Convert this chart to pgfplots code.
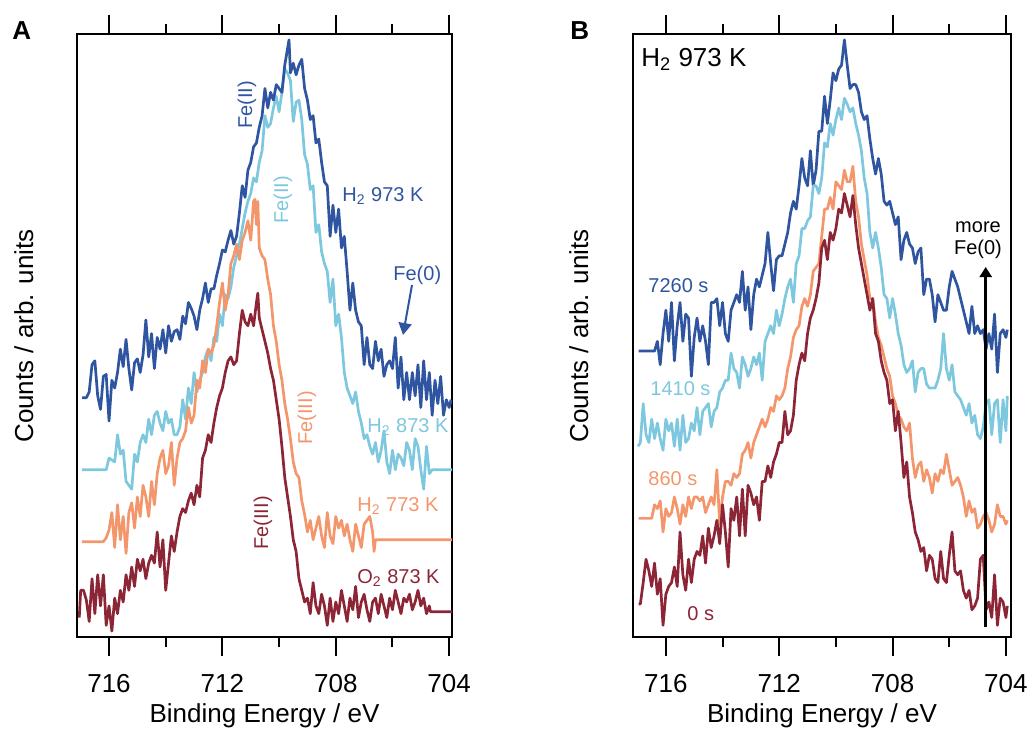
\documentclass[border=0pt]{standalone}
\usepackage{fontspec}
\setmainfont{Liberation Sans}
\usepackage{pgfplots}
\pgfplotsset{compat=1.18}
\usetikzlibrary{arrows.meta}
\definecolor{cdb}{RGB}{48,85,160}
\definecolor{clb}{RGB}{125,200,222}
\definecolor{cor}{RGB}{244,150,108}
\definecolor{cdr}{RGB}{140,38,55}
\pgfplotsset{xpsax/.style={
  scale only axis, height=301.5pt, x dir=reverse, y dir=reverse,
  ymin=10, ymax=1560, ytick=\empty,
  xtick={704,708,712,716}, minor xtick={706,710,714},
  tick align=outside, xtick pos=both, xticklabel pos=bottom,
  major tick length=9.5pt, minor tick length=5pt,
  axis line style={line width=1pt}, tick style={line width=1pt, black},
  xticklabel style={font=\fontsize{13}{13}\selectfont, inner sep=0pt, yshift=-9pt},
  /pgf/number format/assume math mode=true,
  /pgf/number format/1000 sep={},
  anchor=north west, clip=true,
  every axis plot/.append style={line width=1.35pt, line join=round, mark=none},
}}
\begin{document}
\begin{tikzpicture}
\path[use as bounding box] (0,0) rectangle (513.5pt,-364.5pt);
% ---------------- Panel A ----------------
\begin{axis}[xpsax, width=187.5pt, xmin=703.9, xmax=717.13, at={(38.5pt,-17pt)}]
\addplot[clb] coordinates {(716.95,1130)(716.1,1130)(716.0,1100)(715.9,1105)(715.8,1110)(715.7,1040)(715.6,1090)(715.5,1080)(715.4,1160)(715.3,1170)(715.2,1180)(715.1,1090)(715.0,1110)(714.9,1060)(714.8,1040)(714.7,1060)(714.6,1000)(714.5,1040)(714.4,990)(714.3,980)(714.2,1010)(714.1,1030)(714.0,980)(713.9,1010)(713.8,1000)(713.7,1040)(713.6,1040)(713.5,1020)(713.4,950)(713.3,1000)(713.2,920)(713.1,960)(713.0,880)(712.9,930)(712.8,900)(712.7,880)(712.6,840)(712.5,820)(712.4,850)(712.3,790)(712.2,800)(712.1,730)(712.0,760)(711.9,680)(711.8,690)(711.7,660)(711.6,610)(711.5,580)(711.4,550)(711.3,510)(711.2,470)(711.1,440)(711.0,420)(710.9,380)(710.8,390)(710.7,340)(710.6,310)(710.5,220)(710.4,250)(710.3,240)(710.2,200)(710.1,170)(710.0,210)(709.9,160)(709.8,100)(709.7,110)(709.6,130)(709.5,235)(709.4,185)(709.3,180)(709.2,230)(709.1,320)(709.0,345)(708.9,410)(708.8,400)(708.7,520)(708.6,500)(708.5,570)(708.4,600)(708.3,620)(708.2,700)(708.1,640)(708.0,760)(707.9,730)(707.8,790)(707.7,880)(707.6,920)(707.5,940)(707.4,960)(707.3,930)(707.2,980)(707.1,1010)(707.0,1050)(706.9,1040)(706.8,1070)(706.7,1090)(706.6,1060)(706.5,1110)(706.4,1080)(706.3,1030)(706.2,1110)(706.1,1140)(706.0,1080)(705.9,1130)(705.8,1090)(705.7,1100)(705.6,1120)(705.5,1060)(705.4,1080)(705.3,1130)(705.2,1050)(705.1,1070)(705.0,1130)(704.9,1180)(704.8,1070)(704.7,1140)(704.6,1130)(704.5,1130)(703.85,1130)};
\addplot[cdb] coordinates {(716.95,945)(716.8,945)(716.7,930)(716.6,860)(716.5,850)(716.4,940)(716.3,975)(716.2,890)(716.1,885)(716.0,1005)(715.9,900)(715.8,920)(715.7,880)(715.6,820)(715.5,865)(715.4,795)(715.3,870)(715.2,925)(715.1,855)(715.0,845)(714.9,880)(714.8,835)(714.7,745)(714.6,840)(714.5,780)(714.4,870)(714.3,790)(714.2,820)(714.1,770)(714.0,830)(713.9,760)(713.8,800)(713.7,775)(713.6,770)(713.5,795)(713.4,735)(713.3,755)(713.2,700)(713.1,715)(713.0,735)(712.9,770)(712.8,720)(712.7,690)(712.6,650)(712.5,700)(712.4,665)(712.3,665)(712.2,630)(712.1,600)(712.0,565)(711.9,570)(711.8,540)(711.7,515)(711.6,550)(711.5,530)(711.4,470)(711.3,400)(711.2,430)(711.1,360)(711.0,340)(710.9,300)(710.8,290)(710.7,250)(710.6,220)(710.5,150)(710.4,200)(710.3,160)(710.2,180)(710.1,140)(710.0,150)(709.9,160)(709.8,90)(709.65,25)(709.6,110)(709.5,85)(709.4,115)(709.3,90)(709.2,75)(709.1,150)(709.0,180)(708.9,230)(708.8,220)(708.7,290)(708.6,280)(708.5,340)(708.4,390)(708.3,400)(708.2,530)(708.1,450)(708.0,520)(707.9,460)(707.8,560)(707.7,530)(707.6,620)(707.5,720)(707.4,650)(707.3,720)(707.2,750)(707.1,760)(707.0,860)(706.9,790)(706.8,860)(706.7,870)(706.6,800)(706.5,850)(706.4,820)(706.3,890)(706.2,860)(706.1,850)(706.0,870)(705.9,790)(705.8,920)(705.7,840)(705.6,950)(705.5,880)(705.4,950)(705.3,880)(705.2,940)(705.1,860)(705.0,970)(704.9,850)(704.8,950)(704.7,880)(704.6,990)(704.5,900)(704.4,960)(704.3,890)(704.2,990)(704.1,950)(704.0,970)(703.93,950)};
\addplot[cor] coordinates {(716.95,1315)(716.2,1315)(716.1,1305)(716.0,1285)(715.9,1240)(715.8,1330)(715.7,1220)(715.6,1310)(715.5,1250)(715.4,1345)(715.3,1240)(715.2,1215)(715.1,1280)(715.0,1200)(714.9,1250)(714.8,1170)(714.7,1200)(714.6,1250)(714.5,1160)(714.4,1220)(714.3,1140)(714.2,1100)(714.1,1080)(714.0,1140)(713.9,1120)(713.8,1060)(713.7,1170)(713.6,1100)(713.5,1060)(713.4,1050)(713.3,1030)(713.2,970)(713.1,1010)(713.0,990)(712.9,900)(712.8,920)(712.7,850)(712.6,880)(712.5,820)(712.4,830)(712.3,810)(712.2,760)(712.1,700)(712.0,650)(711.9,720)(711.8,680)(711.7,600)(711.6,580)(711.5,550)(711.4,590)(711.3,540)(711.2,520)(711.1,490)(711.0,540)(710.9,440)(710.85,435)(710.8,500)(710.75,440)(710.7,560)(710.6,580)(710.5,590)(710.4,640)(710.3,680)(710.2,760)(710.1,800)(710.0,860)(709.9,900)(709.8,960)(709.7,1000)(709.6,1050)(709.5,1110)(709.4,1140)(709.3,1150)(709.2,1210)(709.1,1245)(709.0,1290)(708.9,1260)(708.8,1310)(708.7,1280)(708.6,1250)(708.5,1300)(708.4,1330)(708.3,1240)(708.2,1300)(708.1,1320)(708.0,1250)(707.9,1280)(707.8,1260)(707.7,1300)(707.6,1270)(707.5,1310)(707.4,1340)(707.3,1270)(707.2,1300)(707.1,1330)(707.0,1270)(706.9,1260)(706.8,1250)(706.7,1290)(706.65,1340)(706.6,1310)(703.85,1310)};
\addplot[cdr] coordinates {(717.05,1510)(717.0,1440)(716.9,1440)(716.8,1465)(716.7,1520)(716.6,1410)(716.5,1500)(716.4,1400)(716.3,1480)(716.2,1400)(716.1,1530)(716.0,1480)(715.9,1545)(715.8,1460)(715.7,1500)(715.6,1440)(715.5,1470)(715.4,1400)(715.3,1440)(715.2,1380)(715.1,1430)(715.0,1360)(714.9,1390)(714.8,1360)(714.7,1410)(714.6,1370)(714.5,1350)(714.4,1370)(714.3,1290)(714.2,1380)(714.1,1310)(714.0,1440)(713.9,1370)(713.8,1300)(713.7,1340)(713.6,1290)(713.5,1250)(713.4,1230)(713.3,1240)(713.2,1210)(713.1,1190)(713.0,1220)(712.9,1170)(712.8,1200)(712.7,1100)(712.6,1080)(712.5,1040)(712.4,1060)(712.3,1010)(712.2,970)(712.1,940)(712.0,920)(711.9,880)(711.8,850)(711.7,840)(711.6,860)(711.5,850)(711.4,780)(711.3,720)(711.2,750)(711.1,760)(711.0,730)(710.9,760)(710.8,700)(710.75,676)(710.7,740)(710.6,770)(710.5,800)(710.4,830)(710.3,870)(710.2,900)(710.1,950)(710.0,1000)(709.9,1070)(709.8,1150)(709.7,1200)(709.6,1250)(709.5,1310)(709.4,1340)(709.3,1410)(709.2,1440)(709.1,1470)(709.0,1460)(708.9,1500)(708.8,1420)(708.7,1480)(708.6,1500)(708.5,1450)(708.4,1480)(708.3,1530)(708.2,1460)(708.1,1520)(708.0,1470)(707.9,1500)(707.8,1440)(707.7,1480)(707.6,1520)(707.5,1460)(707.4,1490)(707.3,1430)(707.2,1510)(707.1,1470)(707.0,1450)(706.9,1490)(706.8,1520)(706.7,1470)(706.6,1460)(706.5,1500)(706.4,1450)(706.3,1480)(706.2,1510)(706.1,1460)(706.0,1490)(705.9,1440)(705.8,1470)(705.7,1500)(705.6,1460)(705.5,1470)(705.4,1450)(705.3,1490)(705.2,1470)(705.1,1440)(705.0,1480)(704.9,1460)(704.8,1500)(704.7,1480)(704.66,1495)(703.85,1495)};
\end{axis}
% ---------------- Panel B ----------------
\begin{axis}[xpsax, width=189pt, xmin=703.82, xmax=717.16, at={(316.5pt,-17pt)}]
\addplot[cdb] coordinates {(716.96,825)(716.4,825)(716.3,800)(716.2,860)(716.1,780)(716.0,720)(715.9,800)(715.8,700)(715.7,850)(715.6,760)(715.5,700)(715.4,800)(715.3,730)(715.2,740)(715.1,890)(715.0,790)(714.9,740)(714.8,800)(714.7,760)(714.6,800)(714.5,860)(714.4,700)(714.3,700)(714.2,690)(714.1,760)(714.0,700)(713.9,780)(713.8,800)(713.7,720)(713.6,700)(713.5,680)(713.4,700)(713.3,620)(713.2,720)(713.1,660)(713.0,770)(712.9,680)(712.8,640)(712.7,660)(712.6,630)(712.5,600)(712.4,520)(712.3,600)(712.2,670)(712.1,590)(712.0,580)(711.9,580)(711.8,550)(711.7,520)(711.6,470)(711.5,440)(711.4,460)(711.3,400)(711.2,330)(711.1,380)(711.0,400)(710.9,310)(710.8,400)(710.7,360)(710.6,260)(710.5,260)(710.4,170)(710.3,240)(710.2,180)(710.1,110)(710.0,130)(709.9,100)(709.8,90)(709.7,25)(709.6,90)(709.5,150)(709.4,140)(709.3,140)(709.2,160)(709.1,210)(709.0,230)(708.9,220)(708.8,280)(708.7,330)(708.6,370)(708.5,330)(708.4,370)(708.3,440)(708.2,450)(708.1,440)(708.0,470)(707.9,500)(707.8,480)(707.7,590)(707.6,540)(707.5,520)(707.4,550)(707.3,560)(707.2,600)(707.1,570)(707.0,560)(706.9,680)(706.8,640)(706.7,640)(706.6,680)(706.5,750)(706.4,680)(706.3,700)(706.2,720)(706.1,720)(706.0,660)(705.9,620)(705.8,640)(705.7,660)(705.6,690)(705.5,720)(705.4,750)(705.3,780)(705.2,710)(705.1,780)(705.0,760)(704.9,780)(704.8,770)(704.7,820)(704.6,780)(704.5,820)(704.4,730)(704.3,880)(704.2,780)(704.1,770)(704.0,790)(703.95,770)};
\addplot[clb] coordinates {(716.98,1070)(716.9,1060)(716.8,960)(716.7,1040)(716.6,1060)(716.5,1000)(716.4,1050)(716.3,1010)(716.2,1050)(716.1,1080)(716.0,1000)(715.9,1030)(715.8,1010)(715.7,1070)(715.6,1000)(715.5,1080)(715.4,990)(715.3,1060)(715.2,1050)(715.1,1010)(715.0,1030)(714.9,970)(714.8,1040)(714.7,980)(714.6,970)(714.5,960)(714.4,1020)(714.3,980)(714.2,970)(714.1,930)(714.0,920)(713.9,900)(713.8,900)(713.7,830)(713.6,870)(713.5,880)(713.4,920)(713.3,840)(713.2,860)(713.1,890)(713.0,870)(712.9,840)(712.8,860)(712.7,830)(712.6,900)(712.5,800)(712.4,780)(712.3,760)(712.2,780)(712.1,720)(712.0,760)(711.9,730)(711.8,690)(711.7,660)(711.6,640)(711.5,700)(711.4,600)(711.3,580)(711.2,510)(711.1,510)(711.0,490)(710.9,480)(710.8,400)(710.7,400)(710.6,420)(710.5,380)(710.4,290)(710.3,300)(710.2,240)(710.1,270)(710.0,230)(709.9,200)(709.8,230)(709.7,175)(709.6,190)(709.5,210)(709.4,200)(709.3,240)(709.2,270)(709.1,310)(709.0,380)(708.9,420)(708.8,520)(708.7,560)(708.6,520)(708.5,560)(708.4,610)(708.3,680)(708.2,690)(708.1,740)(708.0,690)(707.9,730)(707.8,780)(707.7,810)(707.6,860)(707.5,880)(707.4,870)(707.3,850)(707.2,930)(707.1,880)(707.0,870)(706.9,870)(706.8,910)(706.7,920)(706.6,920)(706.5,920)(706.4,900)(706.3,870)(706.2,780)(706.1,870)(706.0,900)(705.9,860)(705.8,930)(705.7,940)(705.6,950)(705.5,970)(705.4,990)(705.3,960)(705.2,1010)(705.1,990)(705.0,1040)(704.9,1050)(704.8,1020)(704.7,960)(704.6,950)(704.5,1040)(704.4,960)(704.3,950)(704.2,1060)(704.1,950)(704.0,1030)(703.95,940)};
\addplot[cor] coordinates {(716.96,1255)(716.5,1255)(716.4,1220)(716.3,1230)(716.2,1210)(716.1,1290)(716.0,1230)(715.9,1250)(715.8,1240)(715.7,1200)(715.6,1230)(715.5,1270)(715.4,1220)(715.3,1250)(715.2,1200)(715.1,1230)(715.0,1200)(714.9,1200)(714.8,1210)(714.7,1200)(714.6,1240)(714.5,1220)(714.4,1200)(714.3,1220)(714.2,1130)(714.1,1270)(714.0,1200)(713.9,1160)(713.8,1160)(713.7,1170)(713.6,1140)(713.5,1150)(713.4,1140)(713.3,1090)(713.2,1080)(713.1,1060)(713.0,1100)(712.9,1060)(712.8,1040)(712.7,1020)(712.6,1000)(712.5,1020)(712.4,1000)(712.3,970)(712.2,980)(712.1,940)(712.0,950)(711.9,940)(711.8,920)(711.7,870)(711.6,840)(711.5,790)(711.4,770)(711.3,760)(711.2,710)(711.1,690)(711.0,710)(710.9,680)(710.8,620)(710.7,610)(710.6,600)(710.5,530)(710.4,460)(710.3,460)(710.2,430)(710.1,460)(710.0,390)(709.9,400)(709.8,410)(709.7,360)(709.6,390)(709.5,390)(709.4,350)(709.3,440)(709.2,480)(709.1,550)(709.0,590)(708.9,630)(708.8,690)(708.7,690)(708.6,750)(708.5,790)(708.4,810)(708.3,840)(708.2,870)(708.1,890)(708.0,940)(707.9,960)(707.8,990)(707.7,1000)(707.6,1020)(707.5,1030)(707.4,1010)(707.3,1100)(707.2,1150)(707.1,1120)(707.0,1110)(706.9,1160)(706.8,1130)(706.7,1150)(706.6,1190)(706.5,1140)(706.4,1160)(706.3,1130)(706.2,1140)(706.1,1090)(706.0,1130)(705.9,1170)(705.8,1160)(705.7,1150)(705.6,1170)(705.5,1200)(705.4,1250)(705.3,1210)(705.2,1240)(705.1,1230)(705.0,1280)(704.9,1270)(704.8,1250)(704.7,1240)(704.6,1260)(704.5,1290)(704.4,1270)(704.3,1220)(704.2,1250)(704.1,1250)(704.0,1270)(703.95,1260)};
\addplot[cdr] coordinates {(716.96,1475)(716.9,1475)(716.8,1420)(716.7,1360)(716.6,1390)(716.5,1430)(716.4,1370)(716.3,1450)(716.2,1410)(716.1,1530)(716.0,1450)(715.9,1430)(715.8,1420)(715.7,1380)(715.6,1430)(715.5,1290)(715.4,1400)(715.3,1440)(715.2,1360)(715.1,1420)(715.0,1360)(714.9,1340)(714.8,1350)(714.7,1300)(714.6,1370)(714.5,1280)(714.4,1330)(714.3,1300)(714.2,1260)(714.1,1320)(714.0,1220)(713.9,1290)(713.8,1380)(713.7,1230)(713.6,1260)(713.5,1200)(713.4,1300)(713.3,1180)(713.2,1300)(713.1,1170)(713.0,1190)(712.9,1220)(712.8,1200)(712.7,1260)(712.6,1160)(712.5,1160)(712.4,1120)(712.3,1150)(712.2,1110)(712.1,1090)(712.0,1060)(711.9,1060)(711.8,980)(711.7,1040)(711.6,1030)(711.5,990)(711.4,900)(711.3,860)(711.2,830)(711.1,850)(711.0,780)(710.9,740)(710.8,720)(710.7,690)(710.6,650)(710.5,560)(710.4,540)(710.3,590)(710.2,520)(710.1,540)(710.0,510)(709.9,460)(709.8,470)(709.7,420)(709.6,450)(709.5,480)(709.4,425)(709.3,500)(709.2,560)(709.1,600)(709.0,640)(708.9,680)(708.8,720)(708.7,690)(708.6,780)(708.5,800)(708.4,850)(708.3,880)(708.2,900)(708.1,960)(708.0,950)(707.9,1030)(707.8,980)(707.7,1060)(707.6,1150)(707.5,1110)(707.4,1200)(707.3,1240)(707.2,1290)(707.1,1310)(707.0,1340)(706.9,1330)(706.8,1390)(706.7,1350)(706.6,1360)(706.5,1410)(706.4,1420)(706.3,1340)(706.2,1410)(706.1,1420)(706.0,1350)(705.9,1290)(705.8,1390)(705.7,1400)(705.6,1390)(705.5,1440)(705.4,1460)(705.3,1440)(705.2,1490)(705.1,1480)(705.0,1460)(704.9,1360)(704.8,1350)(704.7,1490)(704.6,1470)(704.5,1510)(704.4,1400)(704.3,1530)(704.2,1460)(704.1,1470)(704.0,1510)(703.95,1480)};
\end{axis}
% ---------------- Annotations (pixel grid, origin top-left) ----------------
\begin{scope}[x=0.5pt,y=-0.5pt, every node/.style={inner sep=0pt, font=\fontsize{10}{10}\selectfont}]
\node[anchor=base west, font=\fontsize{13}{13}\selectfont\bfseries] at (12,39) {A};
\node[anchor=base west, font=\fontsize{13}{13}\selectfont\bfseries] at (570,39) {B};
\node[anchor=base, font=\fontsize{13}{13}\selectfont] at (264.5,722) {Binding Energy / eV};
\node[anchor=base, font=\fontsize{13}{13}\selectfont] at (822,722) {Binding Energy / eV};
\node[anchor=base, rotate=90, font=\fontsize{13}{13}\selectfont] at (33,336) {Counts / arb. units};
\node[anchor=base, rotate=90, font=\fontsize{13}{13}\selectfont] at (588,336) {Counts / arb. units};
% panel A labels
\node[rotate=90, text=cdb] at (247,105) {Fe(II)};
\node[rotate=90, text=clb] at (283,200) {Fe(II)};
\node[anchor=base west, text=cdb] at (342,201) {H\textsubscript{2} 973 K};
\node[anchor=base west, text=cdb] at (393,280) {Fe(0)};
\draw[cdb, line width=1pt, -{Triangle[length=6pt,width=6.5pt]}] (412,285) -- (403,335);
\node[anchor=base west, text=clb] at (367,432) {H\textsubscript{2} 873 K};
\node[rotate=90, text=cor] at (307,418) {Fe(III)};
\node[anchor=base west, text=cor] at (357,511) {H\textsubscript{2} 773 K};
\node[rotate=90, text=cdr] at (263,523) {Fe(III)};
\node[anchor=base west, text=cdr] at (357,583) {O\textsubscript{2} 873 K};
% panel B labels
\node[anchor=base west, font=\fontsize{13}{13}\selectfont] at (641,66) {H\textsubscript{2} 973 K};
\node[anchor=base west, text=cdb] at (648,292) {7260 s};
\node[anchor=base west, text=clb] at (650,395) {1410 s};
\node[anchor=base west, text=cor] at (648,485) {860 s};
\node[anchor=base west, text=cdr] at (687,620) {0 s};
\node[anchor=base] at (978,232) {more};
\node[anchor=base] at (978,254) {Fe(0)};
\draw[black, line width=1.3pt, -{Triangle[length=5pt,width=6pt]}] (985.7,627) -- (985.7,267);
\end{scope}
\end{tikzpicture}
\end{document}
